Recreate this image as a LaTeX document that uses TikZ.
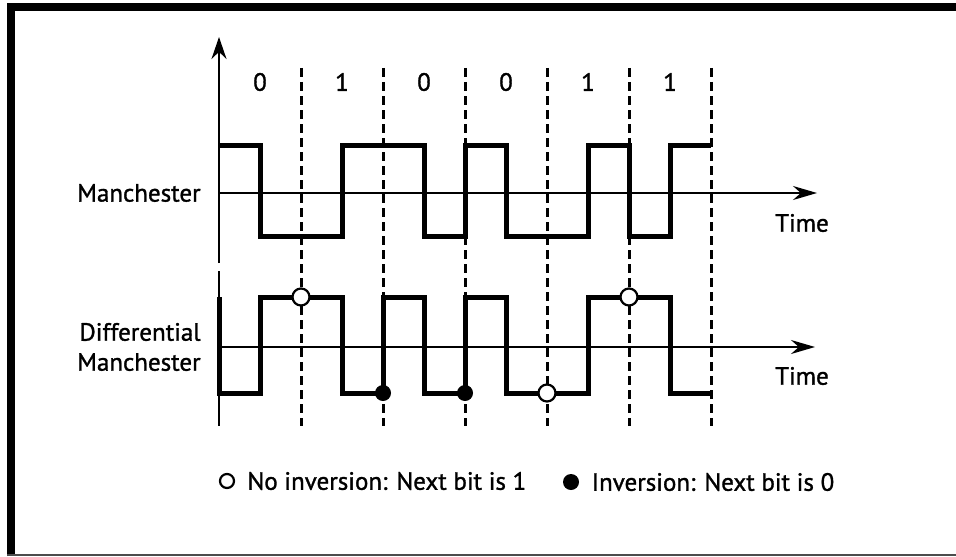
\documentclass[tikz,border=0pt]{standalone}
\usepackage{fontspec}
\setmainfont{PT Sans}
\newfontfamily\labelfont{PT Sans}[FakeBold=1.2]
\usetikzlibrary{positioning,arrows.meta}

\begin{document}
\begin{tikzpicture}[
  x=0.5pt, y=-0.5pt,
  signal/.style={line width=2.5pt,line join=miter},
  axis/.style={line width=1pt},
  timeaxis/.style={line width=1pt,-{Stealth[length=12pt,width=7pt]}},
  bitline/.style={line width=1.5pt,dash pattern=on 4.5pt off 2.5pt},
  txt/.style={font=\labelfont\fontsize{12.5}{15}\selectfont,inner sep=1pt},
  noinv/.style={circle,draw,line width=1.1pt,fill=white,inner sep=0pt,minimum size=8.5pt},
  inv/.style={circle,fill=black,inner sep=0pt,minimum size=8pt}
]
  % frame (left and top edges thick, bottom thin)
  \useasboundingbox (0,0) rectangle (956,556);
  \draw[line width=4pt] (11,556) -- (11,7) -- (956,7);
  \draw[line width=1pt,black!70] (7,555) -- (956,555);

  % bit boundaries and bit values
  \foreach \b [count=\i] in {0,1,0,0,1,1} {
    \node[txt] (bit\i) at ({178+82*\i},82) {\b};
    \draw[bitline] ({219+82*\i},68) -- ({219+82*\i},426);
  }

  % axes
  \coordinate (ytop) at (219,37);
  \coordinate (ybreak1) at (219,263);
  \coordinate (ybreak2) at (219,271);
  \coordinate (ybot) at (219,426);
  \draw[axis,-{Stealth[length=11pt,width=7.5pt]}] (ybreak1) -- (ytop);
  \draw[axis] (ybreak2) -- (ybot);

  \coordinate (m0) at (219,193);
  \coordinate (m1) at (817,193);
  \coordinate (d0) at (219,347);
  \coordinate (d1) at (815,347);
  \draw[timeaxis] (m0) -- (m1);
  \draw[timeaxis] (d0) -- (d1);

  \node[txt,anchor=east] (manch) at (203,193) {Manchester};
  \node[txt,anchor=east,align=right] (diff) at (203,347) {Differential\\Manchester};
  \node[txt] (time1) at (802,223) {Time};
  \node[txt] (time2) at (802,376) {Time};

  % Manchester signal
  \draw[signal] (219,145) -- (260,145) -- (260,236) -- (342,236) -- (342,145)
    -- (424,145) -- (424,236) -- (465,236) -- (465,145) -- (506,145)
    -- (506,236) -- (588,236) -- (588,145) -- (629,145) -- (629,236)
    -- (670,236) -- (670,145) -- (711,145);

  % Differential Manchester signal
  \draw[signal] (219,297) -- (219,393) -- (260,393) -- (260,297) -- (342,297)
    -- (342,393) -- (383,393) -- (383,297) -- (424,297) -- (424,393)
    -- (465,393) -- (465,297) -- (506,297) -- (506,393) -- (588,393)
    -- (588,297) -- (670,297) -- (670,393) -- (711,393);

  \node[noinv] (n1) at (301,297) {};
  \node[inv] (i1) at (383,393) {};
  \node[inv] (i2) at (465,393) {};
  \node[noinv] (n2) at (547,393) {};
  \node[noinv] (n3) at (629,297) {};

  % legend
  \node[noinv,minimum size=7pt] (leg0) at (227,481) {};
  \node[txt,right=5pt of leg0] (legtxt0) {No inversion: Next bit is 1};
  \node[inv] (leg1) at (571,482) {};
  \node[txt,right=5pt of leg1] (legtxt1) {Inversion: Next bit is 0};
\end{tikzpicture}
\end{document}
